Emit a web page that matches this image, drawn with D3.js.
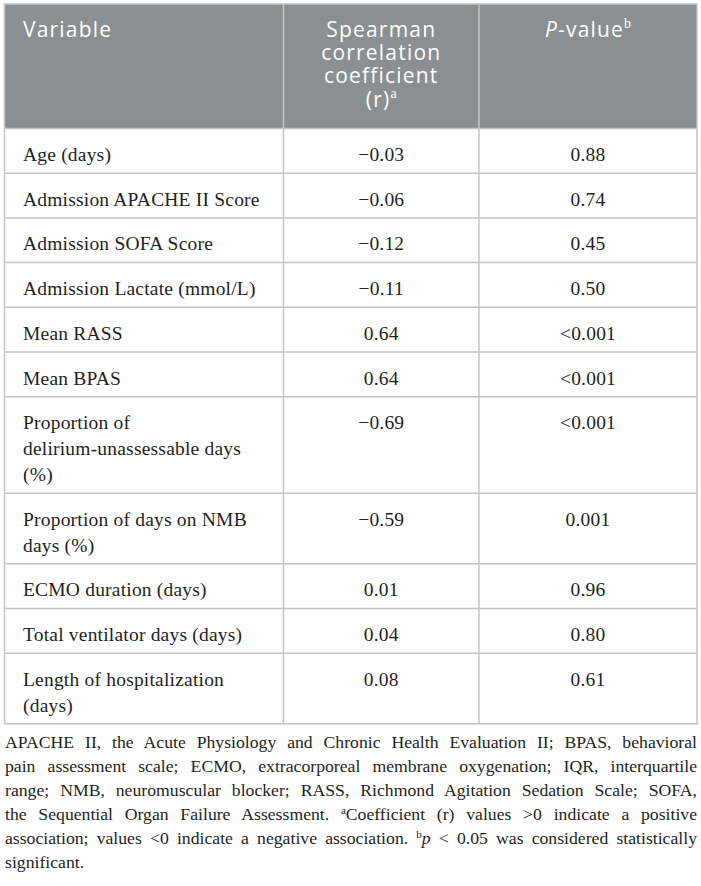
<!DOCTYPE html>
<html lang="en">
<head>
<meta charset="UTF-8">
<script src="https://d3js.org/d3.v7.min.js"></script>
<style>
  body {
    margin: 0;
    background: #fff;
    width: 701px;
    height: 886px;
    position: relative;
    overflow: hidden;
  }
  svg { position: absolute; left: 0; top: 0; }
  .head {
    font-family: "Open Sans", sans-serif;
    font-size: 21px;
    fill: #fff;
    letter-spacing: 1.2px;
  }
  .cell {
    font-family: "Liberation Serif", serif;
    font-size: 19.5px;
    letter-spacing: 0.2px;
    fill: #231f20;
  }
  .sup {
    font-family: "Liberation Serif", serif;
    font-size: 14px;
    letter-spacing: 0;
  }
  .notes {
    position: absolute;
    left: 5px;
    top: 730px;
    width: 692px;
    font-family: "Liberation Serif", serif;
    font-size: 17.7px;
    line-height: 24px;
    color: #231f20;
  }
  .notes div { text-align: justify; text-align-last: justify; }
  .notes div.last { text-align-last: left; }
  .notes sup { font-size: 11px; line-height: 0; vertical-align: 6px; }
</style>
</head>
<body>
<svg id="chart" width="701" height="886"></svg>
<div class="notes" id="notes"></div>
<script>
  // table content
  const headers = [["Variable"], ["Spearman", "correlation", "coefficient", "(r)"], ["P-value"]];
  const headerSup = ["", "a", "b"];

  const variables = [
    "Age (days)",
    "Admission APACHE II Score",
    "Admission SOFA Score",
    "Admission Lactate (mmol/L)",
    "Mean RASS",
    "Mean BPAS",
    "Proportion of\ndelirium-unassessable days\n(%)",
    "Proportion of days on NMB\ndays (%)",
    "ECMO duration (days)",
    "Total ventilator days (days)",
    "Length of hospitalization\n(days)"
  ];
  const spearmanR = [-0.03, -0.06, -0.12, -0.11, 0.64, 0.64, -0.69, -0.59, 0.01, 0.04, 0.08];
  const pValues = ["0.88", "0.74", "0.45", "0.50", "<0.001", "<0.001", "<0.001", "0.001", "0.96", "0.80", "0.61"];

  const notes = [
    "APACHE II, the Acute Physiology and Chronic Health Evaluation II; BPAS, behavioral",
    "pain assessment scale; ECMO, extracorporeal membrane oxygenation; IQR, interquartile",
    "range; NMB, neuromuscular blocker; RASS, Richmond Agitation Sedation Scale; SOFA,",
    "the Sequential Organ Failure Assessment. <sup>a</sup>Coefficient (r) values &gt;0 indicate a positive",
    "association; values &lt;0 indicate a negative association. <sup>b</sup><i>p</i> &lt; 0.05 was considered statistically",
    "significant."
  ];

  // layout
  const colEdges = [4.5, 283.5, 479, 697];
  const tableTop = 4, headBottom = 128.5;
  const lineGap = 25.9, rowBase = 44.7;
  const fmt = d3.format(".2f");
  const border = "#c4c4c4";

  const lines = variables.map(v => v.split("\n"));
  const heights = lines.map(l => rowBase + lineGap * (l.length - 1));
  const tops = [headBottom, ...Array.from(d3.cumsum(heights), h => headBottom + h)];
  const tableBottom = tops[tops.length - 1];

  const rows = variables.map((v, i) => ({
    lines: lines[i], r: fmt(spearmanR[i]), p: pValues[i], top: tops[i]
  }));

  const textX = [23, (colEdges[1] + colEdges[2]) / 2, (colEdges[2] + colEdges[3]) / 2];
  const anchors = ["start", "middle", "middle"];

  const svg = d3.select("#chart");

  // header band
  svg.append("rect")
    .attr("x", colEdges[0]).attr("y", tableTop)
    .attr("width", colEdges[3] - colEdges[0]).attr("height", headBottom - tableTop)
    .attr("fill", "#8a9092");

  // row rules
  svg.append("g").selectAll("line")
    .data(tops.slice(0, -1))
    .join("line")
    .attr("x1", colEdges[0]).attr("x2", colEdges[3])
    .attr("y1", d => d).attr("y2", d => d)
    .attr("stroke", border).attr("stroke-width", 1.5);

  // column rules
  svg.append("g").selectAll("line")
    .data(colEdges.slice(1, -1))
    .join("line")
    .attr("x1", d => d).attr("x2", d => d)
    .attr("y1", tableTop).attr("y2", tableBottom)
    .attr("stroke", border).attr("stroke-width", 1.5);

  // outer frame
  svg.append("rect")
    .attr("x", colEdges[0]).attr("y", tableTop)
    .attr("width", colEdges[3] - colEdges[0]).attr("height", tableBottom - tableTop)
    .attr("fill", "none").attr("stroke", border).attr("stroke-width", 1.5);

  // header text
  headers.forEach((h, c) => {
    h.forEach((t, i) => {
      const txt = svg.append("text")
        .attr("class", "head")
        .attr("x", textX[c])
        .attr("y", 36.7 + 23.3 * i)
        .attr("text-anchor", anchors[c]);
      if (t.startsWith("P-")) {
        txt.append("tspan").attr("font-style", "italic").text("P");
        txt.append("tspan").text(t.slice(1));
      } else {
        txt.append("tspan").text(t);
      }
      if (i === h.length - 1 && headerSup[c]) {
        txt.append("tspan").attr("class", "sup").attr("dy", -9).text(headerSup[c]);
      }
    });
  });

  // body cells
  const row = svg.append("g").selectAll("g")
    .data(rows)
    .join("g")
    .attr("transform", d => `translate(0,${d.top + 32.5})`);

  row.append("text")
    .attr("class", "cell")
    .selectAll("tspan")
    .data(d => d.lines)
    .join("tspan")
    .attr("x", textX[0])
    .attr("y", (d, i) => i * lineGap)
    .text(d => d);

  row.append("text")
    .attr("class", "cell")
    .attr("x", textX[1])
    .attr("text-anchor", "middle")
    .text(d => d.r);

  row.append("text")
    .attr("class", "cell")
    .attr("x", textX[2])
    .attr("text-anchor", "middle")
    .text(d => d.p);

  // footnote
  d3.select("#notes").selectAll("div")
    .data(notes)
    .join("div")
    .classed("last", (d, i) => i === notes.length - 1)
    .html(d => d);
</script>
</body>
</html>
